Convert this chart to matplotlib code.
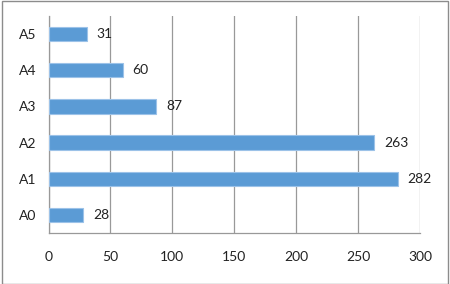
import matplotlib
matplotlib.use("Agg")
import matplotlib.pyplot as plt
from matplotlib.patches import Rectangle

categories = ["A0", "A1", "A2", "A3", "A4", "A5"]
values = [28, 282, 263, 87, 60, 31]
xticks = [0, 50, 100, 150, 200, 250, 300]

plt.rcParams['font.family'] = ['Lato', 'DejaVu Sans']

fig = plt.figure(figsize=(4.5, 2.84), dpi=100)
ax = fig.add_axes([48.5/450, 1-233/284, (420-48.5)/450, (233-16)/284])

y = list(range(len(categories)))
ax.barh(y, values, height=0.4, color='#5b9bd5', edgecolor='#9cc2e8', linewidth=0.8, zorder=3)
for yi, v in zip(y, values):
    ax.annotate(str(v), (v, yi), xytext=(7, 0), textcoords='offset points',
                va='center', ha='left', fontsize=10, color='#222222')

ax.set_xlim(0, 300)
ax.set_ylim(-0.5, len(categories) - 0.5)
ax.set_xticks(xticks)
ax.set_yticks(y)
ax.set_yticklabels(categories)
ax.xaxis.grid(True, color='#999999', linewidth=0.9, zorder=0)
ax.tick_params(axis='both', length=0, labelsize=10, colors='#222222')
ax.tick_params(axis='x', pad=13)
ax.tick_params(axis='y', pad=9)
for s in ['top', 'right']:
    ax.spines[s].set_visible(False)
for s in ['left', 'bottom']:
    ax.spines[s].set_color('#999999')
    ax.spines[s].set_linewidth(0.9)

fig.patches.append(Rectangle((1.5/450, 0.5/284), 446/450, 282.5/284, transform=fig.transFigure,
                             fill=False, edgecolor='#8c8c8c', linewidth=1.0))

fig.savefig("out.png", dpi=100)
